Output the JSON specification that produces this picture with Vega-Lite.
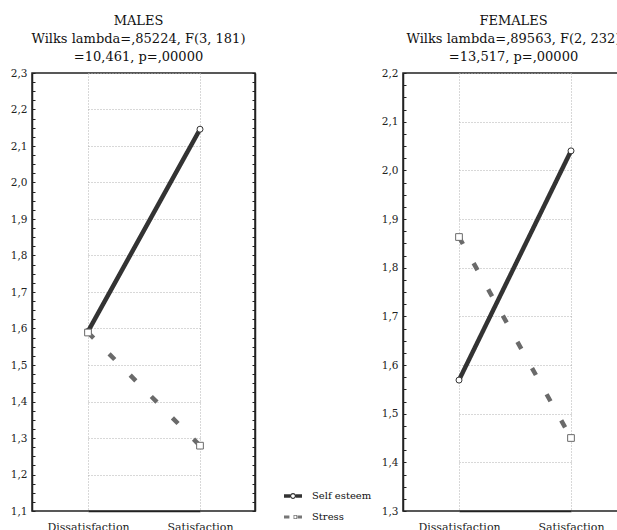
{
  "$schema": "https://vega.github.io/schema/vega-lite/v6.json",
  "padding": {"left": 9, "top": 14, "right": 0, "bottom": 0},
  "background": "white",
  "data": {"values": [
    {"sex": "MALES", "cond": "Dissatisfaction", "var": "Self esteem", "value": 1.592},
    {"sex": "MALES", "cond": "Satisfaction", "var": "Self esteem", "value": 2.146},
    {"sex": "MALES", "cond": "Dissatisfaction", "var": "Stress", "value": 1.589},
    {"sex": "MALES", "cond": "Satisfaction", "var": "Stress", "value": 1.279},
    {"sex": "FEMALES", "cond": "Dissatisfaction", "var": "Self esteem", "value": 1.569},
    {"sex": "FEMALES", "cond": "Satisfaction", "var": "Self esteem", "value": 2.040},
    {"sex": "FEMALES", "cond": "Dissatisfaction", "var": "Stress", "value": 1.863},
    {"sex": "FEMALES", "cond": "Satisfaction", "var": "Stress", "value": 1.450}
  ]},
  "spacing": 7,
  "resolve": {"scale": {"y": "independent"}, "legend": {"color": "independent"}},
  "hconcat": [
    {
      "title": {"text": ["MALES", "Wilks lambda=,85224, F(3, 181)", "=10,461, p=,00000"], "dx": -5},
      "width": 223,
      "height": 438,
      "transform": [{"filter": "datum.sex === 'MALES'"}],
      "resolve": {"axis": {"y": "independent"}},
      "layer": [
        {
          "mark": {"type": "line", "strokeWidth": 4.5},
          "encoding": {
            "x": {"field": "cond", "type": "nominal", "sort": ["Dissatisfaction", "Satisfaction"], "scale": {"type": "point", "range": [56, 168], "padding": 0}, "axis": {"title": null, "ticks": false, "labelAngle": 0, "labelFontSize": 11, "labelPadding": 10, "grid": true, "domain": true}},
            "y": {"field": "value", "type": "quantitative", "scale": {"domain": [1.1, 2.3], "nice": false, "zero": false},
              "axis": {"title": null, "orient": "left", "values": [1.1,1.125,1.15,1.175,1.2,1.225,1.25,1.275,1.3,1.325,1.35,1.375,1.4,1.425,1.45,1.475,1.5,1.525,1.55,1.575,1.6,1.625,1.65,1.675,1.7,1.725,1.75,1.775,1.8,1.825,1.85,1.875,1.9,1.925,1.95,1.975,2.0,2.025,2.05,2.075,2.1,2.125,2.15,2.175,2.2,2.225,2.25,2.275,2.3],
                "labelExpr": "abs(datum.value*10 - round(datum.value*10)) < 0.01 ? replace(format(datum.value, '.1f'), '.', ',') : ''",
                "tickSize": -3, "labelPadding": 8, "labelFontSize": 10.5, "labelOverlap": false,
                "gridOpacity": {"condition": {"test": "abs(datum.value*10 - round(datum.value*10)) < 0.01", "value": 1}, "value": 0}}},
            "color": {"field": "var", "type": "nominal", "scale": {"domain": ["Self esteem", "Stress"], "range": ["#333333", "#6a6a6a"]},
              "legend": {"title": null, "orient": "none", "legendX": 252, "legendY": 414, "symbolSize": 324, "labelFont": "DejaVu Serif", "labelFontSize": 10, "labelColor": "#111111", "labelOffset": 10, "rowPadding": 7,
                "encode": {"symbols": {"update": {
                  "shape": {"signal": "datum.value === 'Self esteem' ? 'M-1,-0.2H-0.3V0.2H-1Z M0.3,-0.2H1V0.2H0.3Z M0,-0.32A0.32,0.32 0 1,1 0,0.32A0.32,0.32 0 1,1 0,-0.32Z M0,-0.2A0.2,0.2 0 1,0 0,0.2A0.2,0.2 0 1,0 0,-0.2Z' : 'M-1,-0.17H-0.4V0.17H-1Z M0.06,-0.22H0.46V0.22H0.06Z M0.15,-0.13V0.13H0.37V-0.13Z M0.5,-0.17H1V0.17H0.5Z'"},
                  "fill": {"signal": "datum.value === 'Self esteem' ? '#333333' : '#777777'"},
                  "strokeWidth": {"value": 0},
                  "size": {"value": 324},
                  "opacity": {"value": 1}
                }}}}},
            "strokeDash": {"field": "var", "type": "nominal", "scale": {"domain": ["Self esteem", "Stress"], "range": [[1, 0], [8, 22]]}, "legend": null}
          }
        },
        {
          "mark": {"type": "point", "filled": false, "fill": "white", "strokeWidth": 1, "opacity": 1},
          "encoding": {
            "x": {"field": "cond", "type": "nominal", "sort": ["Dissatisfaction", "Satisfaction"]},
            "y": {"field": "value", "type": "quantitative", "axis": null},
            "color": {"field": "var", "type": "nominal"},
            "shape": {"field": "var", "type": "nominal", "scale": {"domain": ["Self esteem", "Stress"], "range": ["circle", "square"]}, "legend": null},
            "size": {"field": "var", "type": "nominal", "scale": {"domain": ["Self esteem", "Stress"], "range": [36, 45]}, "legend": null}
          }
        },
        {
          "mark": {"type": "point", "opacity": 0},
          "encoding": {
            "x": {"field": "cond", "type": "nominal", "sort": ["Dissatisfaction", "Satisfaction"]},
            "y": {"field": "value", "type": "quantitative",
              "axis": {"title": null, "orient": "right", "labels": false, "grid": false, "tickSize": -3,
                "values": [1.1,1.125,1.15,1.175,1.2,1.225,1.25,1.275,1.3,1.325,1.35,1.375,1.4,1.425,1.45,1.475,1.5,1.525,1.55,1.575,1.6,1.625,1.65,1.675,1.7,1.725,1.75,1.775,1.8,1.825,1.85,1.875,1.9,1.925,1.95,1.975,2.0,2.025,2.05,2.075,2.1,2.125,2.15,2.175,2.2,2.225,2.25,2.275,2.3]}}
          }
        }
      ]
    },
    {
      "title": {"text": ["FEMALES", "Wilks lambda=,89563, F(2, 232)", "=13,517, p=,00000"], "dx": -1},
      "width": 223,
      "height": 438,
      "transform": [{"filter": "datum.sex === 'FEMALES'"}],
      "resolve": {"axis": {"y": "independent"}},
      "layer": [
        {
          "mark": {"type": "line", "strokeWidth": 4.5},
          "encoding": {
            "x": {"field": "cond", "type": "nominal", "sort": ["Dissatisfaction", "Satisfaction"], "scale": {"type": "point", "range": [56, 168], "padding": 0}, "axis": {"title": null, "ticks": false, "labelAngle": 0, "labelFontSize": 11, "labelPadding": 10, "grid": true, "domain": true}},
            "y": {"field": "value", "type": "quantitative", "scale": {"domain": [1.3, 2.2], "nice": false, "zero": false},
              "axis": {"title": null, "orient": "left", "values": [1.3,1.325,1.35,1.375,1.4,1.425,1.45,1.475,1.5,1.525,1.55,1.575,1.6,1.625,1.65,1.675,1.7,1.725,1.75,1.775,1.8,1.825,1.85,1.875,1.9,1.925,1.95,1.975,2.0,2.025,2.05,2.075,2.1,2.125,2.15,2.175,2.2],
                "labelExpr": "abs(datum.value*10 - round(datum.value*10)) < 0.01 ? replace(format(datum.value, '.1f'), '.', ',') : ''",
                "tickSize": -3, "labelPadding": 8, "labelFontSize": 10.5, "labelOverlap": false,
                "gridOpacity": {"condition": {"test": "abs(datum.value*10 - round(datum.value*10)) < 0.01", "value": 1}, "value": 0}}},
            "color": {"field": "var", "type": "nominal", "legend": null},
            "strokeDash": {"field": "var", "type": "nominal", "legend": null}
          }
        },
        {
          "mark": {"type": "point", "filled": false, "fill": "white", "strokeWidth": 1, "opacity": 1},
          "encoding": {
            "x": {"field": "cond", "type": "nominal", "sort": ["Dissatisfaction", "Satisfaction"]},
            "y": {"field": "value", "type": "quantitative", "axis": null},
            "color": {"field": "var", "type": "nominal", "legend": null},
            "shape": {"field": "var", "type": "nominal", "legend": null},
            "size": {"field": "var", "type": "nominal", "legend": null}
          }
        },
        {
          "mark": {"type": "point", "opacity": 0},
          "encoding": {
            "x": {"field": "cond", "type": "nominal", "sort": ["Dissatisfaction", "Satisfaction"]},
            "y": {"field": "value", "type": "quantitative",
              "axis": {"title": null, "orient": "right", "labels": false, "grid": false, "tickSize": -3,
                "values": [1.3,1.325,1.35,1.375,1.4,1.425,1.45,1.475,1.5,1.525,1.55,1.575,1.6,1.625,1.65,1.675,1.7,1.725,1.75,1.775,1.8,1.825,1.85,1.875,1.9,1.925,1.95,1.975,2.0,2.025,2.05,2.075,2.1,2.125,2.15,2.175,2.2]}}
          }
        }
      ]
    }
  ],
  "config": {
    "font": "DejaVu Serif",
    "view": {"stroke": "#222222", "strokeWidth": 1.5},
    "axis": {"labelFont": "DejaVu Serif", "labelColor": "#222222", "domainColor": "#222222", "domainWidth": 1.5, "tickColor": "#222222", "tickWidth": 1, "gridColor": "#b0b0b0", "gridDash": [1, 2], "gridWidth": 1},
    "title": {"font": "DejaVu Serif", "fontSize": 13, "fontWeight": "normal", "color": "#111111", "lineHeight": 18, "anchor": "middle", "frame": "group", "offset": 4},
    "legend": {"labelFont": "DejaVu Serif", "labelColor": "#111111", "padding": 0}
  }
}
